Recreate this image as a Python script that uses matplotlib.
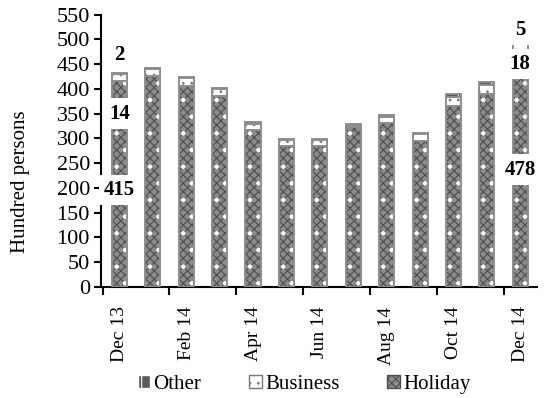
import matplotlib.pyplot as plt
import numpy as np
from matplotlib.patches import Patch

plt.rcParams['font.family'] = ['Liberation Serif', 'DejaVu Serif']
plt.rcParams['hatch.linewidth'] = 0.8

months = ['Dec 13', 'Jan 14', 'Feb 14', 'Mar 14', 'Apr 14', 'May 14', 'Jun 14',
          'Jul 14', 'Aug 14', 'Sep 14', 'Oct 14', 'Nov 14', 'Dec 14']
holiday = [415, 425, 406, 386, 316, 284, 285, 322, 331, 294, 365, 390, 478]
business = [14, 14, 15, 13, 14, 12, 11, 5, 13, 14, 18, 17, 18]
other = [2, 4, 3, 3, 4, 3, 3, 3, 4, 3, 7, 7, 5]

# label positions (y in hundred persons) for first and last month
labelled = {0: (196, 350, 469), 12: (237, 450, 519)}

W = 0.45


def layer(ax, x, vals, bottom, face, hatch_col, hatch, z):
    ax.bar(x, vals, width=W, bottom=bottom, color=face, edgecolor=hatch_col,
           hatch=hatch, linewidth=0, zorder=z)


def outline(ax, x, vals, bottom):
    ax.bar(x, vals, width=W, bottom=bottom, facecolor='none',
           edgecolor='#8e8e8e', linewidth=1.4, zorder=3)


def main():
    fig = plt.figure(figsize=(5.47, 3.98), dpi=100)
    ax = fig.add_axes([101 / 547, 111 / 398, 436 / 547, 272.5 / 398])

    x = np.arange(len(months))
    h = np.array(holiday)
    b = np.array(business)
    o = np.array(other)

    # holiday: grey checker with white dots
    layer(ax, x, h, 0, '#8c8c8c', '#4e4e4e', 'xxxx', 2)
    layer(ax, x, h, 0, 'none', 'white', '.', 2.1)
    outline(ax, x, h, 0)
    # business: white with grey speckles
    layer(ax, x, b, h, 'white', '#7a7a7a', '..', 2)
    outline(ax, x, b, h)
    # other: dark grey
    layer(ax, x, o, h + b, '#5a5a5a', 'white', '+', 2)
    outline(ax, x, o, h + b)

    for i, ys in labelled.items():
        for val, y in zip((holiday[i], business[i], other[i]), ys):
            ax.text(i, y, str(val), ha='center', va='center', fontsize=15,
                    fontweight='bold', zorder=5, clip_on=False,
                    bbox=dict(boxstyle='square,pad=0.25', fc='white', ec='none'))

    ax.set_xlim(-0.55, 12.5)
    ax.set_ylim(0, 550)
    ax.set_yticks(np.arange(0, 551, 50))
    ax.set_xticks(x[::2])
    ax.set_xticklabels(months[::2], rotation=90)
    ax.set_xticks(np.arange(-0.5, 12, 2), minor=True)
    ax.tick_params(axis='x', which='major', length=0, pad=14, labelsize=14)
    ax.tick_params(axis='x', which='minor', length=6, width=1.5, direction='out')
    ax.tick_params(axis='y', length=5, width=1.5, labelsize=16, pad=3)

    for s in ('top', 'right'):
        ax.spines[s].set_visible(False)
    for s in ('left', 'bottom'):
        ax.spines[s].set_linewidth(1.5)

    ax.set_ylabel('Hundred persons', fontsize=15)
    ax.yaxis.set_label_coords(-0.163, 0.385)

    handles = [Patch(facecolor='#5a5a5a', edgecolor='white', hatch='+'),
               Patch(facecolor='white', edgecolor='#7a7a7a', hatch='..'),
               Patch(facecolor='#8c8c8c', edgecolor='#4e4e4e', hatch='xxxx')]
    fig.legend(handles, ['Other', 'Business', 'Holiday'], loc='center',
               bbox_to_anchor=(0.556, 0.035), ncol=3, frameon=False,
               fontsize=15, handlelength=0.6, handleheight=0.6,
               handletextpad=0.15, columnspacing=2.3)

    fig.savefig('out.png', dpi=100)


if __name__ == '__main__':
    main()
